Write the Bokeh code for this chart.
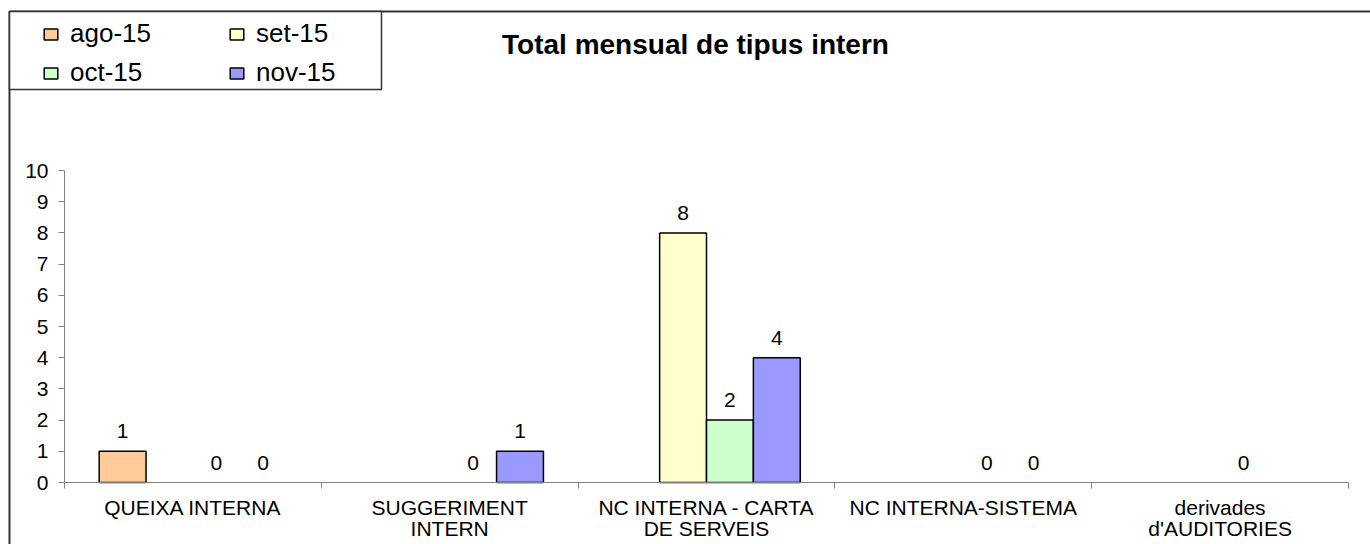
from bokeh.plotting import figure
from bokeh.models import (ColumnDataSource, Range1d, FixedTicker, LinearAxis,
                          LabelSet, Legend, LegendItem, BoxAnnotation, Label)
from bokeh.core.properties import value
from bokeh.transform import dodge
from bokeh.embed import file_html
from bokeh.resources import INLINE

# ---- data ----
categories = ["QUEIXA INTERNA", "SUGGERIMENT INTERN", "NC INTERNA - CARTA DE SERVEIS",
              "NC INTERNA-SISTEMA", "derivades d'AUDITORIES"]
category_labels = ["QUEIXA INTERNA", "SUGGERIMENT\nINTERN", "NC INTERNA - CARTA\nDE SERVEIS",
                   "NC INTERNA-SISTEMA", "derivades\nd'AUDITORIES"]
series_names = ["ago-15", "set-15", "oct-15", "nov-15"]
ago_15 = [1, None, None, None, None]
set_15 = [None, None, 8, None, None]
oct_15 = [0, 0, 2, 0, 0]
nov_15 = [0, 1, 4, 0, None]
series_values = [ago_15, set_15, oct_15, nov_15]
colors = ["#FFCC99", "#FFFFCC", "#CCFFCC", "#9999FF"]
y_ticks = list(range(0, 11))
title_text = "Total mensual de tipus intern"

FONT = "Liberation Sans"

# ---- layout (pixels) ----
W, H = 1370, 544
FL, FT = 7, 9                # frame (= chart border) left / top
X0, SX = 64, 256.8           # pixel of category-axis start, pixels per category
Y0, SY = 482, 31.2           # pixel of value 0, pixels per unit


def px_x(px):
    return (px - X0) / SX


def px_y(py):
    return (Y0 - py) / SY


p = figure(width=W, height=H, output_backend="svg", toolbar_location=None,
           x_range=Range1d(px_x(FL), px_x(W)), y_range=Range1d(px_y(H), px_y(FT)),
           min_border_left=FL, min_border_right=0, min_border_top=FT,
           min_border_bottom=0, x_axis_location=None, y_axis_location=None)
p.outline_line_color = None
p.xgrid.visible = False
p.ygrid.visible = False
p.background_fill_color = "white"
p.border_fill_color = "white"

# outer chart border (right / bottom edges fall outside the picture)
p.add_layout(BoxAnnotation(left=px_x(9), right=px_x(3000), top=px_y(11), bottom=px_y(3000),
                           fill_color=None, fill_alpha=0, line_color="#333333",
                           line_alpha=1.0, line_width=2))

bw = 0.1825
offsets = [-1.5 * bw, -0.5 * bw, 0.5 * bw, 1.5 * bw]
centers = [i + 0.5 for i in range(len(categories))]

items = {}
for name, vals, col, off in zip(series_names, series_values, colors, offsets):
    xs = [c for c, v in zip(centers, vals) if v is not None]
    ys = [v for v in vals if v is not None]
    src = ColumnDataSource(dict(x=xs, top=ys, txt=[str(v) for v in ys]))
    bars = ColumnDataSource(dict(x=[x for x, y in zip(xs, ys) if y > 0],
                                 top=[y for y in ys if y > 0]))
    r = p.vbar(x=dodge("x", off), top="top", bottom=0, width=bw, source=bars,
               fill_color=col, line_color="black", line_width=1.5)
    items[name] = LegendItem(label=name, renderers=[r])
    p.add_layout(LabelSet(x=dodge("x", off), y="top", text="txt", source=src,
                          text_align="center", text_baseline="middle", y_offset=20,
                          text_font_size="21px", text_font=value(FONT), text_color="black"))

# y axis
yax = LinearAxis(fixed_location=0, bounds=(0, 10), ticker=FixedTicker(ticks=y_ticks),
                 axis_line_color="#808080", major_tick_line_color="#808080",
                 major_tick_out=6, major_tick_in=0, minor_tick_out=0, minor_tick_in=0,
                 major_label_text_font_size="21px", major_label_text_font=FONT,
                 major_label_text_color="black", major_label_standoff=10)
p.add_layout(yax, "left")

# x axis: labels at category centres, separator ticks at category boundaries
xax = LinearAxis(fixed_location=0, bounds=(0, len(categories)),
                 ticker=FixedTicker(ticks=centers, minor_ticks=list(range(len(categories) + 1))),
                 major_label_overrides={c: t for c, t in zip(centers, category_labels)},
                 axis_line_color="#808080", major_tick_out=0, major_tick_in=0,
                 minor_tick_line_color="#808080", minor_tick_out=6, minor_tick_in=0,
                 major_label_text_font_size="21px", major_label_text_font=FONT,
                 major_label_text_line_height=0.95,
                 major_label_text_color="black", major_label_standoff=7)
p.add_layout(xax, "below")

# legend box
p.add_layout(BoxAnnotation(left=px_x(9), right=px_x(381), top=px_y(11), bottom=px_y(89),
                           fill_color="white", fill_alpha=1.0,
                           line_color="#333333", line_alpha=1.0, line_width=1.5))

# legend laid out column by column: two rows, [ago, set] / [oct, nov]
legend_order = ["ago-15", "oct-15", "set-15", "nov-15"]
legend = Legend(items=[items[n] for n in legend_order], ncols=2, location=(35, H - 88),
                glyph_width=17, glyph_height=14, label_standoff=11, label_width=150,
                label_height=25, spacing=8, padding=8, margin=0,
                label_text_font_size="26px", label_text_font=FONT,
                label_text_color="black",
                border_line_color=None, background_fill_alpha=0)
p.add_layout(legend, "center")

p.add_layout(Label(x=px_x(695), y=px_y(44), text=title_text, text_align="center",
                   text_baseline="middle", text_font_size="28px", text_font_style="bold",
                   text_font=FONT, text_color="black"))

open("out.html", "w").write(file_html(p, INLINE))
